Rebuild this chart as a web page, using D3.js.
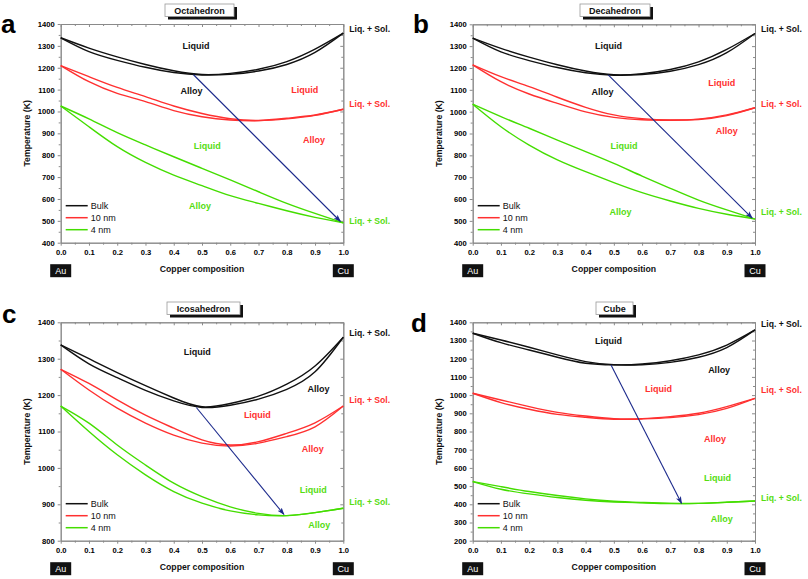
<!DOCTYPE html>
<html><head><meta charset="utf-8">
<script src="https://cdn.jsdelivr.net/npm/d3@7"></script>
<style>body{margin:0;background:#fff}svg{display:block}text{font-family:"Liberation Sans",Arial,sans-serif}</style>
</head><body>
<script>
// ---------- DATA ----------
const composition = [0,0.1,0.2,0.3,0.4,0.5,0.6,0.7,0.8,0.9,1.0];
const seriesNames = ["Bulk","10 nm","4 nm"];
const xTicks = [0,0.1,0.2,0.3,0.4,0.5,0.6,0.7,0.8,0.9,1.0];

// panel a: Octahedron
const aBulkLiq = [1337,1290,1250,1215,1186,1169,1174,1193,1228,1285,1358];
const aBulkSol = [1337,1274,1234,1202,1178,1167,1170,1185,1215,1270,1358];
const a10Liq = [1210,1159,1110,1068,1025,991,967,959,969,984,1010];
const a10Sol = [1210,1136,1083,1045,1004,976,961,958,966,982,1010];
const a4Liq = [1025,966,903,847,793,740,687,633,580,534,491];
const a4Sol = [1025,930,839,767,709,661,615,580,546,516,491];
// panel b: Decahedron
const bBulkLiq = [1337,1290,1250,1215,1186,1169,1174,1193,1228,1285,1358];
const bBulkSol = [1337,1274,1234,1202,1178,1167,1170,1185,1215,1270,1358];
const b10Liq = [1214,1160,1115,1066,1020,985,968,962,966,985,1018];
const b10Sol = [1214,1137,1081,1038,999,974,963,961,964,982,1018];
const b4Liq = [1034,977,924,870,817,763,705,649,595,550,508];
const b4Sol = [1034,931,847,779,725,675,629,591,557,530,508];
// panel c: Icosahedron
const cBulkLiq = [1338,1300,1262,1226,1192,1168,1177,1197,1230,1280,1359];
const cBulkSol = [1338,1286,1248,1213,1184,1166,1172,1189,1216,1264,1359];
const c10Liq = [1271,1232,1187,1145,1109,1077,1063,1072,1095,1124,1170];
const c10Sol = [1271,1214,1164,1123,1090,1068,1060,1068,1086,1113,1170];
const c4Liq = [1170,1123,1063,1008,958,921,893,875,869,877,889];
const c4Sol = [1170,1100,1036,981,935,903,882,871,869,877,889];
// panel d: Cube
const dBulkLiq = [1340,1303,1263,1221,1184,1167,1171,1189,1221,1275,1358];
const dBulkSol = [1340,1288,1248,1208,1175,1166,1167,1180,1208,1261,1358];
const d10Liq = [1010,973,937,905,885,871,871,882,900,937,982];
const d10Sol = [1010,959,922,894,878,867,869,876,893,927,982];
const d4Liq = [525,497,470,448,430,417,410,405,405,411,418];
const d4Sol = [525,483,457,437,422,413,408,404,405,411,418];

const panelTitles = ["Octahedron","Decahedron","Icosahedron","Cube"];
const panelLetters = ["a","b","c","d"];
const yDomains = [[400,1400],[400,1400],[800,1400],[200,1400]];
// arrows [x0,T0,x1,T1]
const arrows = [[0.47,1168,0.99,497],[0.48,1168,0.99,513],[0.48,1166,0.79,872],[0.49,1166,0.74,405]];
// region labels: [text, x, T, series index]
const regionLabels = [
  [["Liquid",0.479,1299,0],["Alloy",0.463,1095,0],["Liquid",0.864,1101,1],["Alloy",0.896,870,1],["Liquid",0.519,844,2],["Alloy",0.493,568,2]],
  [["Liquid",0.481,1302,0],["Alloy",0.46,1089,0],["Liquid",0.882,1133,1],["Alloy",0.9,911,1],["Liquid",0.536,844,2],["Alloy",0.524,539,2]],
  [["Liquid",0.483,1318,0],["Alloy",0.912,1216,0],["Liquid",0.696,1145,1],["Alloy",0.892,1051,1],["Liquid",0.894,939,2],["Alloy",0.915,843,2]],
  [["Liquid",0.481,1299,0],["Alloy",0.873,1136,0],["Liquid",0.658,1034,1],["Alloy",0.858,757,1],["Liquid",0.867,543,2],["Alloy",0.882,318,2]]
];
// "Liq. + Sol." temperatures at right side, per series
const liqSolT = [[1376,1034,501],[1377,1035,540],[1370,1187,907],[1389,1028,435]];

const panelData = [
  [[aBulkLiq,aBulkSol],[a10Liq,a10Sol],[a4Liq,a4Sol]],
  [[bBulkLiq,bBulkSol],[b10Liq,b10Sol],[b4Liq,b4Sol]],
  [[cBulkLiq,cBulkSol],[c10Liq,c10Sol],[c4Liq,c4Sol]],
  [[dBulkLiq,dBulkSol],[d10Liq,d10Sol],[d4Liq,d4Sol]]
];

// ---------- LAYOUT ----------
const W = 808, H = 579;
const colors = ["#111111","#ff3030","#44dd00"];
const labelColors = ["#111111","#ff3030","#55dd11"];
const arrowColor = "#1c2a8c";
const frames = [
  {l:60.7,r:343.3,t:24,b:242.7, letter:[1,33], title:[165,4,69]},
  {l:472.7,r:755,t:24.3,b:242.7, letter:[413,33], title:[580,4,70]},
  {l:60.7,r:343.3,t:322.3,b:540.7, letter:[2,323], title:[167,302,73]},
  {l:472.7,r:755,t:322.3,b:540.7, letter:[411,332], title:[596,302,37]}
];

const svg = d3.select("body").append("svg").attr("width",W).attr("height",H);
const defs = svg.append("defs");
defs.append("marker").attr("id","ah").attr("viewBox","0 0 10 10").attr("refX",9).attr("refY",5)
  .attr("markerWidth",7).attr("markerHeight",7).attr("orient","auto")
  .append("path").attr("d","M0,1.5 L10,5 L0,8.5 L2.5,5 Z").attr("fill",arrowColor);

frames.forEach((f,pi)=>{
  const g = svg.append("g");
  const x = d3.scaleLinear().domain([0,1]).range([f.l,f.r]);
  const y = d3.scaleLinear().domain(yDomains[pi]).range([f.b,f.t]);
  const yMajor = d3.range(yDomains[pi][0], yDomains[pi][1]+1, 100);
  const yMinor = d3.range(yDomains[pi][0]+50, yDomains[pi][1], 100);
  const xMinor = d3.range(0.05,1,0.1);
  const axisColor = "#8a8a8a";

  // bottom axis
  g.append("g").attr("class","xb").attr("transform",`translate(0,${f.b})`)
    .call(d3.axisBottom(x).tickValues(xTicks).tickFormat(d3.format(".1f")).tickSize(3).tickSizeOuter(0));
  g.append("g").attr("transform",`translate(0,${f.b})`)
    .call(d3.axisBottom(x).tickValues(xMinor).tickFormat("").tickSize(2).tickSizeOuter(0));
  // top axis (inward)
  g.append("g").attr("transform",`translate(0,${f.t})`)
    .call(d3.axisBottom(x).tickValues(xTicks).tickFormat("").tickSize(3).tickSizeOuter(0));
  g.append("g").attr("transform",`translate(0,${f.t})`)
    .call(d3.axisBottom(x).tickValues(xMinor).tickFormat("").tickSize(2).tickSizeOuter(0));
  // left axis
  g.append("g").attr("transform",`translate(${f.l},0)`)
    .call(d3.axisLeft(y).tickValues(yMajor).tickFormat(d3.format("d")).tickSize(3).tickSizeOuter(0));
  g.append("g").attr("transform",`translate(${f.l},0)`)
    .call(d3.axisLeft(y).tickValues(yMinor).tickFormat("").tickSize(2).tickSizeOuter(0));
  // right axis (inward)
  g.append("g").attr("transform",`translate(${f.r},0)`)
    .call(d3.axisLeft(y).tickValues(yMajor).tickFormat("").tickSize(3).tickSizeOuter(0));
  g.append("g").attr("transform",`translate(${f.r},0)`)
    .call(d3.axisLeft(y).tickValues(yMinor).tickFormat("").tickSize(2).tickSizeOuter(0));
  g.selectAll(".domain").attr("stroke",axisColor).attr("stroke-width",1);
  g.selectAll(".tick line").attr("stroke",axisColor);
  g.selectAll(".tick text").attr("fill","#000").attr("font-weight","bold").attr("font-size","7.6px")
    .attr("font-family","'Liberation Sans',Arial,sans-serif");
  g.selectAll(".xb .tick text").attr("dy","0.85em");

  // curves
  const line = d3.line().x((d,i)=>x(composition[i])).y(d=>y(d)).curve(d3.curveNatural);
  panelData[pi].forEach((pair,si)=>{
    pair.forEach(arr=>{
      g.append("path").attr("d",line(arr)).attr("fill","none").attr("stroke",colors[si]).attr("stroke-width",1.4);
    });
  });

  // arrow
  const a = arrows[pi];
  g.append("line").attr("x1",x(a[0])).attr("y1",y(a[1])).attr("x2",x(a[2])).attr("y2",y(a[3]))
    .attr("stroke",arrowColor).attr("stroke-width",1.1).attr("marker-end","url(#ah)");

  // region labels
  regionLabels[pi].forEach(r=>{
    g.append("text").attr("x",x(r[1])).attr("y",y(r[2])).attr("dy","0.35em").attr("text-anchor","middle")
      .attr("font-size","9px").attr("font-weight","bold").attr("fill",labelColors[r[3]]).text(r[0]);
  });
  liqSolT[pi].forEach((t,si)=>{
    g.append("text").attr("x",f.r+6).attr("y",y(t)).attr("dy","0.35em")
      .attr("font-size","8.6px").attr("font-weight","bold").attr("fill",labelColors[si]).text("Liq. + Sol.");
  });

  // legend
  const lg = g.append("g");
  seriesNames.forEach((n,si)=>{
    const yy = f.b - 37 + si*12;
    lg.append("line").attr("x1",f.l+5).attr("x2",f.l+27).attr("y1",yy).attr("y2",yy)
      .attr("stroke",colors[si]).attr("stroke-width",1.5);
    lg.append("text").attr("x",f.l+30).attr("y",yy).attr("dy","0.35em").attr("font-size","9px")
      .attr("fill","#111").text(n);
  });

  // axis titles
  g.append("text").attr("x",(f.l+f.r)/2).attr("y",f.b+26).attr("dy","0.35em").attr("text-anchor","middle")
    .attr("font-size","8.7px").attr("font-weight","bold").attr("fill","#111").text("Copper composition");
  g.append("text").attr("transform",`translate(${f.l-34},${(f.t+f.b)/2}) rotate(-90)`).attr("text-anchor","middle")
    .attr("dy","0.35em").attr("font-size","8.7px").attr("font-weight","bold").attr("fill","#111").text("Temperature (K)");

  // element boxes
  [["Au",0],["Cu",1]].forEach(([s,v])=>{
    const cx = x(v), cy = f.b+28;
    g.append("rect").attr("x",cx-10.5).attr("y",cy-6.5).attr("width",21).attr("height",13).attr("fill","#111");
    g.append("text").attr("x",cx).attr("y",cy).attr("dy","0.36em").attr("text-anchor","middle")
      .attr("font-size","9px").attr("fill","#fff").text(s);
  });

  // title box
  const [tx,ty,tw] = f.title;
  g.append("rect").attr("x",tx+3).attr("y",ty+3).attr("width",tw).attr("height",12.5).attr("fill","#111");
  g.append("rect").attr("x",tx).attr("y",ty).attr("width",tw).attr("height",12.5).attr("fill","#fff")
    .attr("stroke","#999").attr("stroke-width",0.8);
  g.append("text").attr("x",tx+tw/2).attr("y",ty+6.5).attr("dy","0.36em").attr("text-anchor","middle")
    .attr("font-size","9px").attr("font-weight","bold").attr("fill","#111").text(panelTitles[pi]);

  // panel letter
  svg.append("text").attr("x",f.letter[0]).attr("y",f.letter[1]).attr("font-size","26px").attr("font-weight","bold")
    .attr("fill","#000").text(panelLetters[pi]);
});
</script>
</body></html>
